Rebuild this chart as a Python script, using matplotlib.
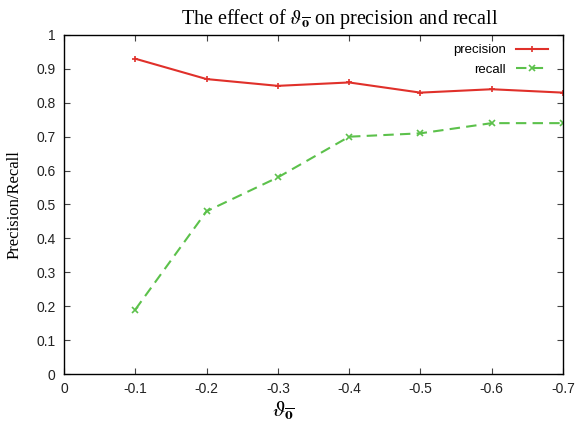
import matplotlib
matplotlib.use("Agg")
import matplotlib.pyplot as plt

thresholds = [-0.1, -0.2, -0.3, -0.4, -0.5, -0.6, -0.7]
precision = [0.93, 0.87, 0.85, 0.86, 0.83, 0.84, 0.83]
recall = [0.19, 0.48, 0.58, 0.70, 0.71, 0.74, 0.74]

x_ticks = [0, -0.1, -0.2, -0.3, -0.4, -0.5, -0.6, -0.7]
x_tick_labels = ["0", "-0.1", "-0.2", "-0.3", "-0.4", "-0.5", "-0.6", "-0.7"]
y_ticks = [0, 0.1, 0.2, 0.3, 0.4, 0.5, 0.6, 0.7, 0.8, 0.9, 1]
y_tick_labels = ["0", "0.1", "0.2", "0.3", "0.4", "0.5", "0.6", "0.7", "0.8", "0.9", "1"]

plt.rcParams["font.family"] = "Liberation Sans"
plt.rcParams["mathtext.fontset"] = "stix"

fig = plt.figure(figsize=(5.77, 4.23), dpi=100)
ax = fig.add_axes([64 / 577, 1 - 374 / 423, (563 - 64) / 577, (374 - 35) / 423])

ax.plot(thresholds, precision, color="#e0302a", lw=1.5, marker="+", ms=5,
        mew=1.2, label="precision")
ax.plot(thresholds, recall, color="#5cc14b", lw=1.5, ls=(0, (5, 3)), marker="x",
        ms=4, mew=1.2, label="recall")

ax.set_xlim(0, -0.7)
ax.set_ylim(0, 1)
ax.set_xticks(x_ticks)
ax.set_xticklabels(x_tick_labels)
ax.set_yticks(y_ticks)
ax.set_yticklabels(y_tick_labels)
ax.tick_params(direction="in", top=True, right=True, length=4, width=0.8,
               labelsize=10, pad=6, color="#444444", labelcolor="#222222")
for s in ax.spines.values():
    s.set_linewidth(1.0)

ax.set_xlabel(r"$\vartheta_{\overline{\mathbf{o}}}$", fontsize=16, labelpad=2)
ax.xaxis.set_label_coords(0.44, -0.075, transform=ax.transAxes)
ax.xaxis.label.set_va("top")
ax.set_ylabel("Precision/Recall", fontsize=12, family="Liberation Serif", labelpad=10)
ax.set_title(r"The effect of $\vartheta_{\overline{\mathbf{o}}}$ on precision and recall",
             fontsize=14.5, family="Liberation Serif", pad=8, x=0.553)

ax.legend(loc="upper right", frameon=False, markerfirst=False, fontsize=9.5,
          handlelength=2.4, borderaxespad=0.3, labelspacing=0.55,
          bbox_to_anchor=(0.988, 1.0))

fig.savefig("out.png", dpi=100)
